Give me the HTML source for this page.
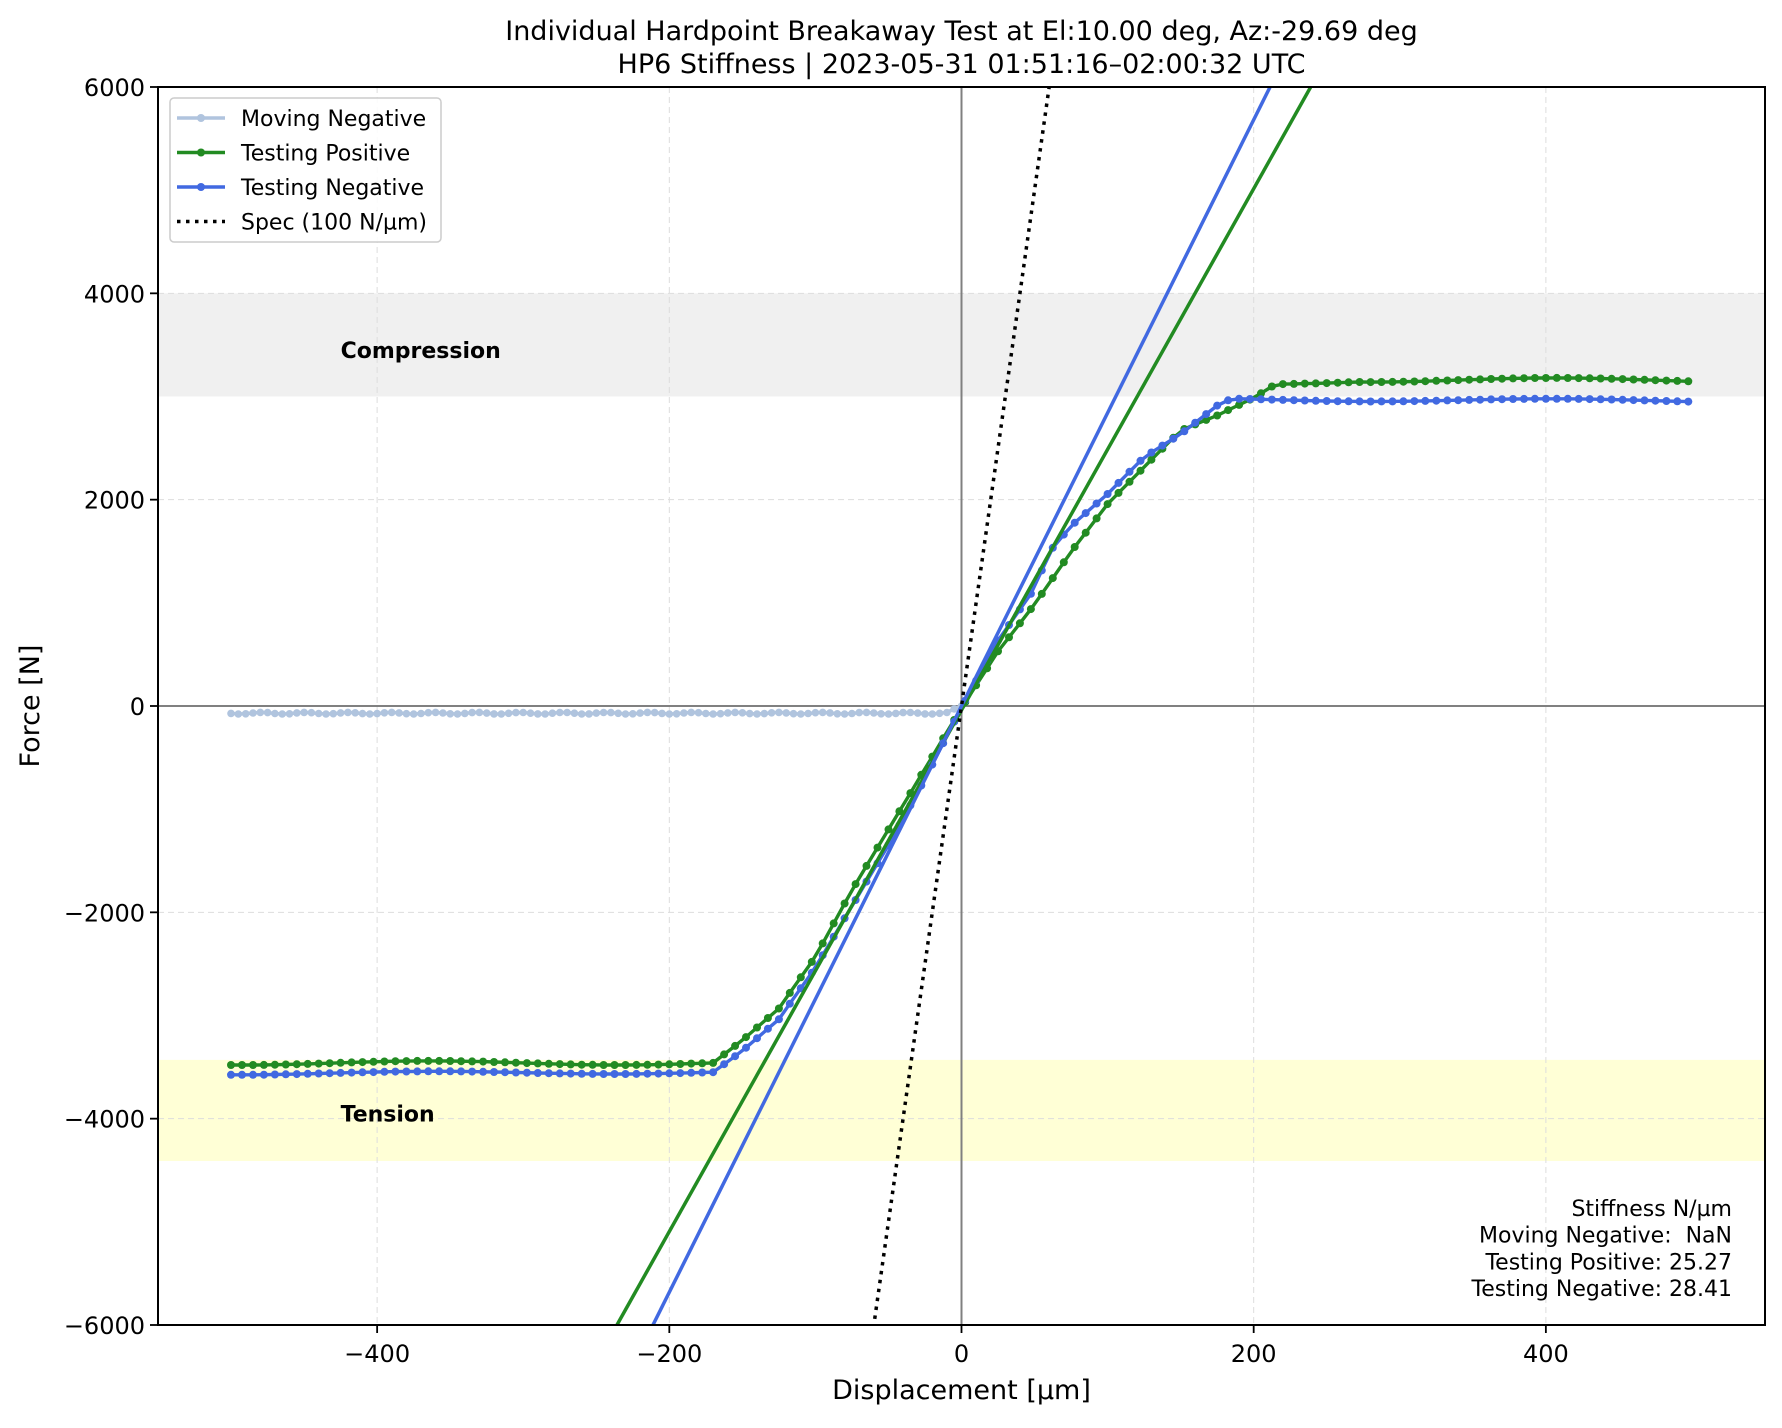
<!DOCTYPE html>
<html><head><meta charset="utf-8"><style>
body{margin:0;background:#fff}
svg text{font-family:"DejaVu Sans","Liberation Sans",sans-serif;fill:#000}
</style></head><body>
<svg id="s" width="1782" height="1423" xmlns="http://www.w3.org/2000/svg"></svg>
<script>
const L=158,T=87,R=1765,B=1325;
const X=x=>L+(x+550)*(R-L)/1100, Y=y=>T+(6000-y)*(B-T)/12000;
let h='';
h+=`<rect x="${L}" y="${Y(4000)}" width="${R-L}" height="${Y(3000)-Y(4000)}" fill="#f0f0f0"/>`;
h+=`<rect x="${L}" y="${Y(-3430)}" width="${R-L}" height="${Y(-4410)-Y(-3430)}" fill="#ffffd6"/>`;
for(const v of [-400,-200,0,200,400]) h+=`<line x1="${X(v)}" x2="${X(v)}" y1="${T}" y2="${B}" stroke="#ddd" stroke-dasharray="6,4" stroke-width="1"/>`;
for(const v of [-6000,-4000,-2000,0,2000,4000,6000]) h+=`<line x1="${L}" x2="${R}" y1="${Y(v)}" y2="${Y(v)}" stroke="#ddd" stroke-dasharray="6,4" stroke-width="1"/>`;
h+=`<line x1="${X(0)}" x2="${X(0)}" y1="${T}" y2="${B}" stroke="#808080" stroke-width="2"/>`;
h+=`<line x1="${L}" x2="${R}" y1="${Y(0)}" y2="${Y(0)}" stroke="#808080" stroke-width="2"/>`;
h+=`<text x="${X(-425)}" y="${Y(3450)+8}" font-size="22" font-weight="bold">Compression</text>`;
h+=`<text x="${X(-425)}" y="${Y(-3950)+8}" font-size="22" font-weight="bold">Tension</text>`;
function interp(pts,x){for(let i=0;i<pts.length-1;i++){if(x<=pts[i+1][0]){const[a,b]=pts[i],[c,d]=pts[i+1];return b+(d-b)*(x-a)/(c-a);}}return pts[pts.length-1][1];}
const g=[[-500,-3460],[-170,-3460],[-150,-3250],[-125,-2950],[-100,-2450],[-75,-1800],[-50,-1200],[-25,-600],[0,0],[25,550],[50,1000],[75,1500],[100,1950],[125,2300],[150,2650],[175,2800],[200,2980],[215,3120],[270,3160],[500,3160]];
const b=[[-500,-3560],[-170,-3550],[-150,-3350],[-125,-3050],[-100,-2550],[-75,-1950],[-50,-1350],[-25,-700],[0,0],[25,650],[50,1150],[60,1500],[75,1750],[100,2050],[125,2400],[150,2620],[175,2900],[185,2970],[500,2960]];
function series(pts,col,r,w,jit){let p='',c='';for(let x=-500;x<=500;x+=7.5){let y=interp(pts,x)+(Math.sin(x*1.7)*jit);p+=(p?'L':'M')+X(x).toFixed(1)+','+Y(y).toFixed(1);c+=`<circle cx="${X(x).toFixed(1)}" cy="${Y(y).toFixed(1)}" r="${r}" fill="${col}"/>`;}
return `<path d="${p}" fill="none" stroke="${col}" stroke-width="${w}"/>`+c;}
const m=[[-500,-70],[-10,-70],[0,0]];
let mp='',mc='';for(let x=-500;x<=0;x+=5){let y=interp(m,x)+Math.sin(x*2.3)*8;mp+=(mp?'L':'M')+X(x).toFixed(1)+','+Y(y).toFixed(1);mc+=`<circle cx="${X(x).toFixed(1)}" cy="${Y(y).toFixed(1)}" r="3.8" fill="#b0c4de"/>`;}
h+=`<path d="${mp}" fill="none" stroke="#b0c4de" stroke-width="3.5"/>`+mc;
h+=`<clipPath id="c"><rect x="${L}" y="${T}" width="${R-L}" height="${B-T}"/></clipPath>`;
h+=series(g,'#228b22',4,3.4,20);
h+=series(b,'#4169e1',4,3.4,15);
h+=`<g clip-path="url(#c)">`;
h+=`<line x1="${X(-250)}" y1="${Y(25.27*-250-40)}" x2="${X(250)}" y2="${Y(25.27*250-40)}" stroke="#228b22" stroke-width="3.5"/>`;
h+=`<line x1="${X(-220)}" y1="${Y(28.41*-220)}" x2="${X(220)}" y2="${Y(28.41*220)}" stroke="#4169e1" stroke-width="3.5"/>`;
h+=`<line x1="${X(-62)}" y1="${Y(-6200)}" x2="${X(62)}" y2="${Y(6200)}" stroke="#000" stroke-width="3.5" stroke-dasharray="3.5,5.5"/>`;
h+=`</g>`;
h+=`<rect x="${L}" y="${T}" width="${R-L}" height="${B-T}" fill="none" stroke="#000" stroke-width="2"/>`;
for(const v of [-400,-200,0,200,400]){h+=`<line x1="${X(v)}" x2="${X(v)}" y1="${B}" y2="${B+8}" stroke="#000" stroke-width="1.8"/><text x="${X(v)}" y="${B+37}" font-size="24" text-anchor="middle">${v<0?'\u2212'+(-v):v}</text>`;}
for(const v of [-6000,-4000,-2000,0,2000,4000,6000]){h+=`<line x1="${L-8}" x2="${L}" y1="${Y(v)}" y2="${Y(v)}" stroke="#000" stroke-width="1.8"/><text x="${L-13}" y="${Y(v)+9}" font-size="24" text-anchor="end">${v<0?'\u2212'+(-v):v}</text>`;}
h+=`<text x="${(L+R)/2}" y="40" font-size="27" text-anchor="middle">Individual Hardpoint Breakaway Test at El:10.00 deg, Az:-29.69 deg</text>`;
h+=`<text x="${(L+R)/2}" y="73" font-size="27" text-anchor="middle">HP6 Stiffness | 2023-05-31 01:51:16–02:00:32 UTC</text>`;
h+=`<text x="${(L+R)/2}" y="1399" font-size="27" text-anchor="middle">Displacement [µm]</text>`;
h+=`<text transform="translate(39,${(T+B)/2}) rotate(-90)" font-size="27" text-anchor="middle">Force [N]</text>`;
// legend
h+=`<rect x="170" y="98" width="271" height="144" rx="4" fill="#fff" fill-opacity="0.85" stroke="#ccc" stroke-width="1.5"/>`;
const leg=[['Moving Negative','#b0c4de',0],['Testing Positive','#228b22',0],['Testing Negative','#4169e1',0],['Spec (100 N/µm)','#000',1]];
leg.forEach((e,i)=>{const y=118+i*34.5;
if(e[2])h+=`<line x1="177" x2="225" y1="${y}" y2="${y}" stroke="#000" stroke-width="3.5" stroke-dasharray="3.5,5.5"/>`;
else h+=`<line x1="177" x2="225" y1="${y}" y2="${y}" stroke="${e[1]}" stroke-width="3.5"/><circle cx="201" cy="${y}" r="4" fill="${e[1]}"/>`;
h+=`<text x="241" y="${y+8}" font-size="22">${e[0]}</text>`;});
const st=['Stiffness N/µm','Moving Negative:  NaN','Testing Positive: 25.27','Testing Negative: 28.41'];
st.forEach((t,i)=>h+=`<text x="1732" y="${1216+i*26.7}" font-size="22" text-anchor="end" xml:space="preserve">${t}</text>`);
document.getElementById('s').innerHTML=h;
</script>
</body></html>
